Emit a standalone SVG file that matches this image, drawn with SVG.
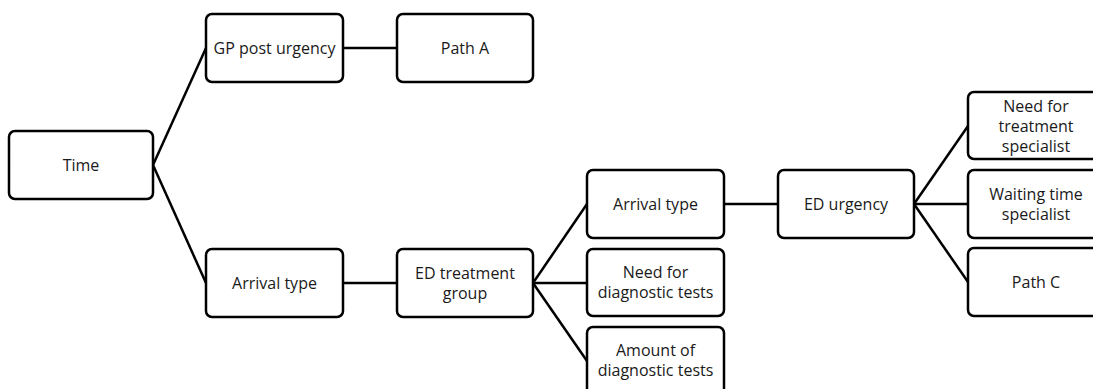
<svg xmlns="http://www.w3.org/2000/svg" width="1093" height="389" viewBox="0 0 1093 389">
<style>
.box{fill:#fff;stroke:#000;stroke-width:2.5}
.t{font-family:"Open Sans","Liberation Sans",sans-serif;font-size:16px;fill:#1a1a1a;text-anchor:middle}
.c{stroke:#000;stroke-width:2.5;fill:none}
</style>
<rect width="1093" height="389" fill="#fff"/>
<g id="connectors">
<line class="c" x1="153" y1="165" x2="206" y2="48"/>
<line class="c" x1="153" y1="165" x2="206" y2="283"/>
<line class="c" x1="343" y1="48" x2="397" y2="48"/>
<line class="c" x1="343" y1="283" x2="397" y2="283"/>
<line class="c" x1="533" y1="283" x2="587" y2="204"/>
<line class="c" x1="533" y1="283" x2="587" y2="283"/>
<line class="c" x1="533" y1="283" x2="587" y2="361"/>
<line class="c" x1="724" y1="204" x2="778" y2="204"/>
<line class="c" x1="914" y1="204" x2="968" y2="126"/>
<line class="c" x1="914" y1="204" x2="968" y2="204"/>
<line class="c" x1="914" y1="204" x2="968" y2="282"/>
</g>
<g id="time"><rect class="box" x="9" y="131" width="144" height="68" rx="6"/><text class="t" x="81" y="170.5">Time</text></g>
<g id="gp-post-urgency"><rect class="box" x="206" y="14" width="137" height="68" rx="6"/><text class="t" x="274.5" y="53.5">GP post urgency</text></g>
<g id="path-a"><rect class="box" x="397" y="14" width="136" height="68" rx="6"/><text class="t" x="465" y="53.5">Path A</text></g>
<g id="arrival-type-1"><rect class="box" x="206" y="249" width="137" height="68" rx="6"/><text class="t" x="274.5" y="288.5">Arrival type</text></g>
<g id="ed-treatment-group"><rect class="box" x="397" y="249" width="136" height="68" rx="6"/><text class="t" x="465" y="278.5">ED treatment</text><text class="t" x="465" y="298.5">group</text></g>
<g id="arrival-type-2"><rect class="box" x="587" y="170" width="137" height="68" rx="6"/><text class="t" x="655.5" y="209.5">Arrival type</text></g>
<g id="need-diagnostic"><rect class="box" x="587" y="249" width="137" height="67" rx="6"/><text class="t" x="655.5" y="278">Need for</text><text class="t" x="655.5" y="298">diagnostic tests</text></g>
<g id="amount-diagnostic"><rect class="box" x="587" y="327" width="137" height="68" rx="6"/><text class="t" x="655.5" y="356">Amount of</text><text class="t" x="655.5" y="376">diagnostic tests</text></g>
<g id="ed-urgency"><rect class="box" x="778" y="170" width="136" height="68" rx="6"/><text class="t" x="846" y="209.5">ED urgency</text></g>
<g id="need-treatment-specialist"><rect class="box" x="968" y="92" width="136" height="67" rx="6"/><text class="t" x="1036" y="111.5">Need for</text><text class="t" x="1036" y="131.5">treatment</text><text class="t" x="1036" y="151.5">specialist</text></g>
<g id="waiting-time-specialist"><rect class="box" x="968" y="170" width="136" height="68" rx="6"/><text class="t" x="1036" y="199.5">Waiting time</text><text class="t" x="1036" y="219.5">specialist</text></g>
<g id="path-c"><rect class="box" x="968" y="248" width="136" height="68" rx="6"/><text class="t" x="1036" y="287.5">Path C</text></g>
</svg>
